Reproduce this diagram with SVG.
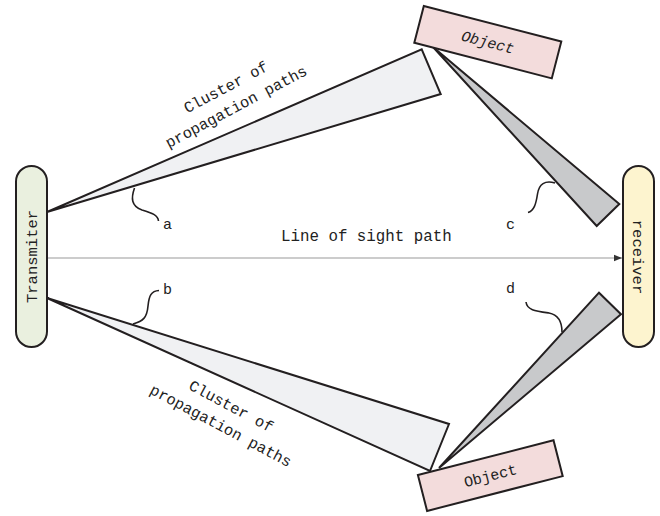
<svg xmlns="http://www.w3.org/2000/svg" width="660" height="516" viewBox="0 0 660 516">
  <style>
    .txt { font-family: "Liberation Mono", "DejaVu Sans Mono", monospace; fill: #222; }
    .cone { fill: #f0f1f3; stroke: #231f20; stroke-width: 2; stroke-linejoin: miter; }
    .cone-dark { fill: #c8c9cb; stroke: #231f20; stroke-width: 2; }
    .obj { fill: #f3dcdc; stroke: #231f20; stroke-width: 2; }
    .lead { fill: none; stroke: #231f20; stroke-width: 1.6; }
  </style>
  <defs>
    <marker id="arrow" viewBox="0 0 10 10" refX="10" refY="5" markerWidth="8" markerHeight="8" markerUnits="userSpaceOnUse" orient="auto">
      <path d="M0,1 L10,5 L0,9 Z" fill="#333"/>
    </marker>
  </defs>
  <rect width="660" height="516" fill="#fff"/>

  <!-- propagation cones and line of sight -->
  <g id="connectors">
    <line x1="47" y1="258" x2="622" y2="258" stroke="#999" stroke-width="1.2" marker-end="url(#arrow)"/>
    <polygon class="cone" points="47,212 421.7,49.3 440.7,94"/>
    <polygon class="cone" points="47,298 449,424 430,471"/>
    <polygon class="cone-dark" points="433,47 619.3,204 596.7,226"/>
    <polygon class="cone-dark" points="439,468 599,292.7 621,314.3"/>
    <!-- leader curves -->
    <path class="lead" d="M134.5,188 C131,198 131,206 142,210 C152,213 158,215 158.5,221"/>
    <path class="lead" d="M133,324 C143,321 147,318 148,306 C149,296 151,291 159,290.5"/>
    <path class="lead" d="M555,183 C545,180 539,184 537.5,194 C536,204 534,211 528,212.5"/>
    <path class="lead" d="M526,302 C527,310 535,311 549,313 C559,315 562,322 562,332"/>
  </g>

  <g id="transmitter">
    <rect x="16" y="166" width="31" height="181" rx="15.5" fill="#eaf0df" stroke="#231f20" stroke-width="2"/>
    <text class="txt" font-size="15.5" text-anchor="middle" transform="translate(37,256.5) rotate(-90)">Transmiter</text>
  </g>

  <g id="receiver">
    <rect x="623" y="166" width="31" height="181" rx="15.5" fill="#fdf4cf" stroke="#231f20" stroke-width="2"/>
    <text class="txt" font-size="15.5" text-anchor="middle" transform="translate(633,257) rotate(90)">receiver</text>
  </g>

  <g id="object-top">
    <rect class="obj" x="-71" y="-19" width="142" height="38" transform="translate(487.8,42.2) rotate(14.5)"/>
    <text class="txt" font-size="15" font-style="italic" text-anchor="middle" transform="translate(487.8,42.2) rotate(14.5)" y="5">Object</text>
  </g>

  <g id="object-bottom">
    <rect class="obj" x="-70" y="-18.5" width="140" height="37" transform="translate(490.3,475.6) rotate(-14.4)"/>
    <text class="txt" font-size="15" text-anchor="middle" transform="translate(490.3,475.6) rotate(-14.4)" y="5">Object</text>
  </g>

  <g id="labels">
    <text class="txt" font-size="15.8" x="281" y="241">Line of sight path</text>
    <g transform="translate(231,97) rotate(-28)">
      <text class="txt" font-size="15.5" text-anchor="middle" x="0" y="-6">Cluster of</text>
      <text class="txt" font-size="15.5" text-anchor="middle" x="0" y="16">propagation paths</text>
    </g>
    <g transform="translate(226,416) rotate(28)">
      <text class="txt" font-size="15.5" text-anchor="middle" x="0" y="-6">Cluster of</text>
      <text class="txt" font-size="15.5" text-anchor="middle" x="0" y="16">propagation paths</text>
    </g>
    <text class="txt" font-size="15" x="163" y="229">a</text>
    <text class="txt" font-size="15" x="163" y="294">b</text>
    <text class="txt" font-size="15" x="506" y="229">c</text>
    <text class="txt" font-size="15" x="506" y="293">d</text>
  </g>
</svg>
